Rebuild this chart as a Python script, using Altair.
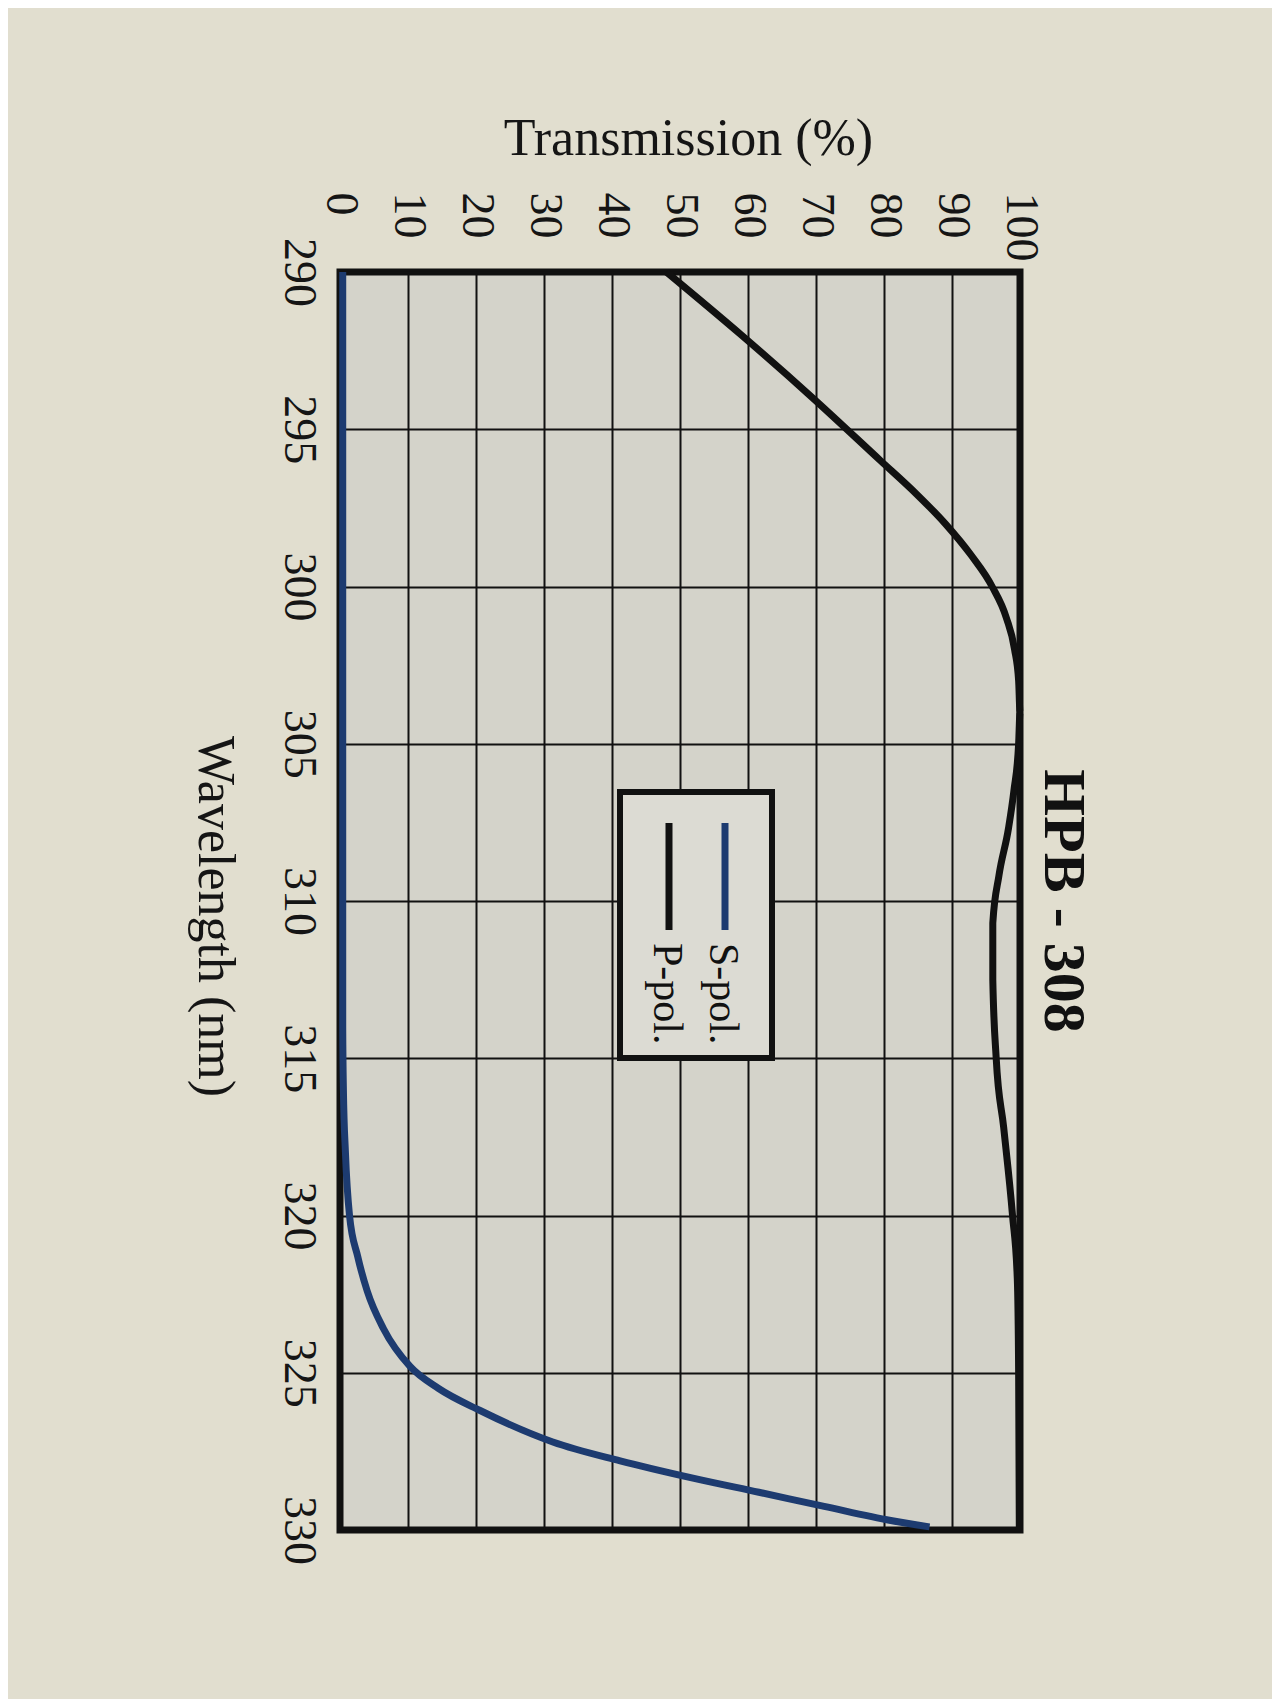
import altair as alt
import pandas as pd

# ---- data ----
series_names = ["S-pol.", "P-pol."]
series_colors = ["#1d3b70", "#111111"]

wl_s = [290, 295, 300, 305, 310, 314, 316, 318, 320, 321.3, 322.4, 323.6, 324.8,
        325.5, 326.2, 327.2, 327.8, 328.35, 328.8, 329.25, 329.7, 329.9]
t_s = [0.4, 0.4, 0.4, 0.4, 0.4, 0.4, 0.5, 0.8, 1.4, 2.6, 4.0, 6.4, 10.3,
       14.5, 20.6, 31.3, 41.2, 51.9, 61.6, 71.2, 81.0, 86.7]

wl_p = [290, 292, 294, 296, 297, 298, 299, 300, 301, 302, 303, 304,
        305, 306.5, 307.7, 309.2, 310.7, 312.5, 315, 317.2, 320, 322, 325, 330]
t_p = [48, 59, 69.5, 79.5, 84.5, 89, 92.8, 95.9, 98.0, 99.2, 99.8, 100,
       99.8, 99.1, 98.3, 96.9, 96.0, 96.0, 96.5, 97.6, 98.9, 99.6, 99.8, 99.9]

t_ticks = [0, 10, 20, 30, 40, 50, 60, 70, 80, 90, 100]
wl_ticks = [290, 295, 300, 305, 310, 315, 320, 325, 330]

chart_title = "HPB - 308"
x_title = "Transmission (%)"
y_title = "Wavelength (nm)"

df = pd.concat([
    pd.DataFrame({"series": series_names[0], "wl": wl_s, "T": t_s}),
    pd.DataFrame({"series": series_names[1], "wl": wl_p, "T": t_p}),
], ignore_index=True)

FONT = "Liberation Serif"
W, H = 680, 1258

lines = alt.Chart(df).mark_line(strokeWidth=7, interpolate="monotone",
                                orient="horizontal").encode(
    x=alt.X("T:Q",
            scale=alt.Scale(domain=[0, 100], nice=False, zero=False),
            axis=alt.Axis(orient="top", values=t_ticks, title=x_title,
                          labelAngle=90, labelAlign="left", labelBaseline="middle",
                          labelPadding=80, labelFontSize=46, labelFont=FONT,
                          labelColor="#151515", labelFlush=False, labelOverlap=False,
                          ticks=False, domain=False, grid=True, gridColor="#111111",
                          gridWidth=2, gridOpacity=1,
                          titleAngle=0, titleX=348, titleY=-134, titleAlign="center",
                          titleBaseline="middle", titleFontSize=52, titleFont=FONT,
                          titleFontWeight="normal", titleColor="#151515")),
    y=alt.Y("wl:Q",
            scale=alt.Scale(domain=[290, 330], reverse=True, nice=False, zero=False),
            axis=alt.Axis(orient="left", values=wl_ticks, title=y_title,
                          labelAngle=90, labelAlign="center", labelBaseline="middle",
                          labelPadding=42, labelFontSize=46, labelFont=FONT,
                          labelColor="#151515", labelFlush=False, labelOverlap=False,
                          ticks=False, domain=False, grid=True, gridColor="#111111",
                          gridWidth=2, gridOpacity=1,
                          titleAngle=90, titleX=-126, titleY=644, titleAlign="center",
                          titleBaseline="middle", titleFontSize=52, titleFont=FONT,
                          titleFontWeight="normal", titleColor="#151515")),
    color=alt.Color("series:N", scale=alt.Scale(domain=series_names, range=series_colors),
                    legend=None),
    order=alt.Order("wl:Q"),
)

one = pd.DataFrame({"k": [0]})
box = alt.Chart(one).mark_rect(fill="#dcdbd3", stroke="#111111", strokeWidth=6).encode(
    x=alt.value(280), x2=alt.value(432), y=alt.value(520), y2=alt.value(786)
)

legend_layers = []
for name, col, lx in zip(series_names, series_colors, [385, 329]):
    legend_layers.append(
        alt.Chart(one).mark_rule(strokeWidth=7, color=col).encode(
            x=alt.value(lx), y=alt.value(551), y2=alt.value(658))
    )
    legend_layers.append(
        alt.Chart(one).mark_text(text=name, angle=90, align="left", baseline="middle",
                                 font=FONT, fontSize=42, color="#111111").encode(
            x=alt.value(lx - 2), y=alt.value(671))
    )

chart = alt.layer(lines, box, *legend_layers).properties(
    width=W, height=H,
    title=alt.TitleParams(chart_title, orient="right", anchor="middle", angle=90,
                          baseline="middle", offset=-40, font=FONT, fontSize=60,
                          fontWeight="bold", color="#111111"),
    autosize=alt.AutoSizeParams(type="none"),
    padding={"left": 332, "top": 264, "right": 252, "bottom": 169},
    background="#e1decf",
).configure_view(stroke="#111111", strokeWidth=7, fill="#d4d3ca")

chart.save("out.html", embed_options={"renderer": "svg", "actions": False})
